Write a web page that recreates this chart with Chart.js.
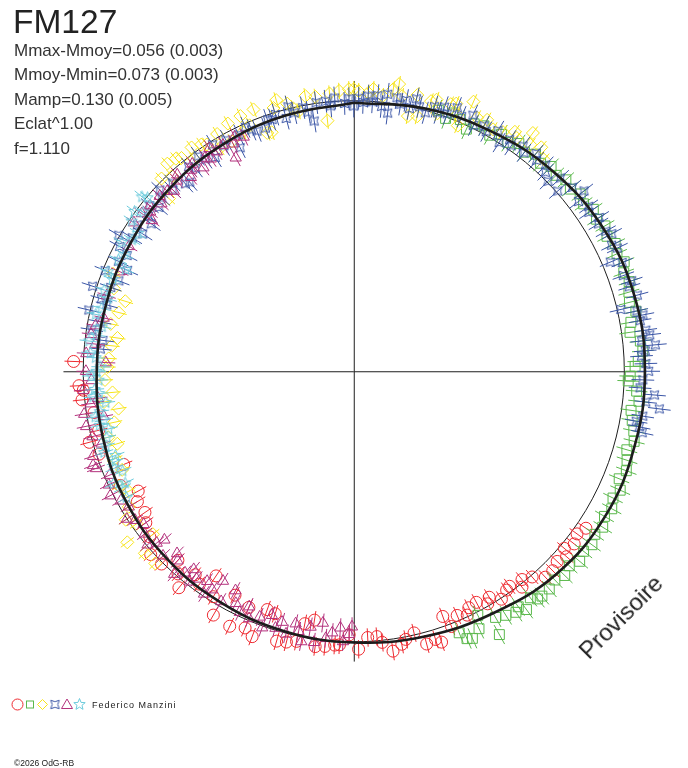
<!DOCTYPE html>
<html>
<head>
<meta charset="utf-8">
<title>FM127</title>
<script src="https://cdn.jsdelivr.net/npm/chart.js@4.4.0/dist/chart.umd.min.js"></script>
<style>
  html, body { margin: 0; padding: 0; background: #fff; }
  body { width: 688px; height: 768px; position: relative; overflow: hidden;
         font-family: "Liberation Sans", Arial, sans-serif; color: #222; }
  #wrap { position: absolute; left: 0; top: 0; width: 688px; height: 768px; }
  .txt { position: absolute; white-space: nowrap; }
  #title { left: 13px; top: 5px; font-size: 33.5px; line-height: 33.5px; color: #222; }
  #stats { left: 14px; top: 39px; font-size: 17px; line-height: 24.4px; color: #333; }
  #observer { left: 92px; top: 701px; font-size: 9px; line-height: 9px; letter-spacing: 1px; color: #222; }
  #copy { left: 14px; top: 759px; font-size: 8.5px; line-height: 8.5px; color: #222; }
  #stamp { left: 621px; top: 617px; font-size: 24px; line-height: 24px; color: #222;
           transform: translate(-50%, -50%) rotate(-45deg); }
</style>
</head>
<body>
<div id="wrap"><canvas id="polar"></canvas></div>
<div class="txt" id="title">FM127</div>
<div class="txt" id="stats">
  Mmax-Mmoy=0.056 (0.003)<br>
  Mmoy-Mmin=0.073 (0.003)<br>
  Mamp=0.130 (0.005)<br>
  Eclat^1.00<br>
  f=1.110
</div>
<div class="txt" id="observer">Federico Manzini</div>
<div class="txt" id="copy">©2026 OdG-RB</div>
<div class="txt" id="stamp">Provisoire</div>

<script>
/* FM127 polar light curve
   phase in degrees (clockwise from top), magnitude offset from mean (mag)
*/

const redPhase = [124,126,128,130,131,133,135,137,139,141,142,144,145,147,149,150,152,154,155,157,159,160,162,163,165,167,169,170,172,174,175,177,179,181,183,184,186,188,189,191,192,194,196,198,200,201,203,204,206,208,210,212,214,216,218,219,221,223,225,228,231,234,236,239,241,244,248,252,255,257,261,264,266,267,272];
const redMag = [0.035,0.020,0.034,0.016,0.042,0.028,0.040,0.038,0.005,-0.012,0.010,-0.020,-0.015,0.002,-0.028,-0.010,-0.035,-0.030,-0.008,-0.022,0.008,-0.038,0.050,0.034,0.041,-0.010,0.007,0.022,0.042,0.005,-0.018,-0.017,0.025,-0.028,0.010,0.012,0.020,0.025,-0.071,-0.052,0.018,0.029,0.035,-0.060,-0.065,0.048,0.028,-0.047,0.046,-0.065,0.038,-0.020,-0.090,-0.030,-0.048,0.027,-0.010,-0.047,0.005,0.010,-0.030,-0.050,-0.069,-0.067,-0.089,-0.040,-0.083,-0.010,0.012,-0.032,-0.028,0.010,0.002,0.017,0.036];

const greenPhase = [18,20,21,23,25,26,28,30,32,34,36,38,40,42,44,46,48,50,52,54,56,58,60,62,64,66,68,70,72,74,76,78,80,82,84,86,88,89,91,92,94,96,98,100,102,104,106,108,110,112,114,116,118,120,122,124,126,128,130,132,134,136,138,140,141,142,144,145,146,148,150,151,153,154,156,157,158];
const greenMag = [0.012,-0.008,0.020,0.008,-0.015,0.015,0.025,0.005,0.030,0.018,0.038,0.025,0.045,0.032,0.050,0.040,0.055,0.045,0.062,0.050,0.068,0.058,0.072,0.060,0.075,0.065,0.078,0.062,0.070,0.058,0.050,0.066,0.040,0.031,0.065,0.071,0.052,0.040,0.022,0.015,0.048,0.060,0.035,0.045,0.058,0.068,0.050,0.062,0.072,0.058,0.078,0.066,0.080,0.070,0.085,0.075,0.088,0.078,0.090,0.072,0.084,0.070,0.080,0.082,0.080,0.060,0.086,0.060,0.072,0.061,0.048,0.110,0.010,0.056,0.078,0.071,0.040];

const yellowPhase = [226,229,231,233,235,237,239,242,244,247,250,253,255,258,261,263,265,268,271,273,276,278,281,284,287,289,292,313,315,317,318,320,321,323,324,326,327,329,330,332,333,335,336,337,339,340,341,343,344,346,347,348,350,352,354,355,357,359,0,1,3,4,6,8,9,10,12,13,14,16,17,18,20,21,22,23,24,26,28,30,32,34,35,37,38,40,42];
const yellowMag = [0.020,0.023,-0.045,0.048,-0.020,0.005,-0.030,-0.057,-0.035,-0.070,-0.060,-0.086,-0.060,-0.095,-0.120,-0.070,-0.105,-0.080,-0.090,-0.093,-0.100,-0.118,-0.085,-0.105,-0.117,-0.062,-0.040,-0.066,0.005,-0.016,0.030,0.023,0.012,-0.020,0.020,0.008,-0.003,-0.040,0.010,-0.040,0.025,-0.028,0.030,-0.015,0.034,-0.065,-0.068,0.015,0.040,0.017,-0.005,-0.020,0.030,0.022,-0.071,0.028,0.035,0.040,0.040,0.033,0.028,0.043,0.020,0.050,0.072,0.030,-0.038,0.045,-0.031,0.036,0.047,0.000,0.048,0.057,0.020,-0.016,0.088,0.040,0.050,0.030,0.040,0.065,0.050,0.100,0.060,0.078,0.050];

const bluePhase = [275,277,279,281,283,285,286,288,289,291,292,294,295,297,298,300,301,303,304,306,307,309,310,312,313,315,316,318,319,321,322,324,325,327,328,330,331,333,334,336,337,338,340,341,
  342,343,345,346,347,349,350,351,352,354,355,356,358,359,0,1,2,3,4,5,6,7,7.5,9,10,11,12,13,14,15.5,17,18,19,20,
  21.5,23,25,26,28,29,31,32.5,34,35,37,38,40,41,43,44,45.7,47,48.6,50,52,53,55,56,58,59,61,62,64,65,67,68,70.5,72,73,75,77,78,79,80,82,83,84,85,86,87,88.5,90,91.7,93.3,94.5,96,97,98.8,100,101,102];
const blueMag = [-0.060,-0.066,-0.020,-0.045,0.005,-0.055,-0.030,0.015,-0.050,-0.070,-0.009,-0.085,-0.040,-0.060,-0.020,0.003,-0.045,-0.070,-0.035,-0.075,-0.050,-0.030,-0.060,-0.045,-0.020,-0.055,-0.035,-0.070,-0.076,-0.030,-0.050,-0.020,-0.045,-0.060,-0.015,-0.040,-0.025,-0.075,-0.030,-0.015,-0.033,-0.045,-0.046,-0.020,
  -0.024,-0.010,-0.035,0.005,-0.022,-0.010,-0.030,-0.066,0.000,0.001,-0.018,0.010,-0.012,0.005,-0.022,0.007,-0.008,0.016,-0.004,0.020,-0.018,0.029,-0.040,0.021,0.000,0.017,-0.010,0.031,0.005,-0.011,0.020,0.002,0.030,0.010,
  0.044,0.020,0.042,0.008,0.025,0.010,0.035,0.000,0.030,0.015,0.040,0.022,0.048,0.030,0.040,0.020,0.003,0.045,0.005,0.055,0.080,0.040,0.060,0.048,0.070,0.055,0.065,0.080,0.060,0.075,0.030,0.070,0.057,0.080,0.065,0.085,0.013,0.070,0.089,0.075,0.090,0.102,0.070,0.119,0.080,0.065,0.080,0.090,0.069,0.060,0.115,0.085,0.138,0.081,0.060,0.075,0.090];

const purplePhase = [180.4,181,182.3,183,184.7,186,187,188.4,189.6,191,192,193,194.5,196,197,198.6,199.7,201,203,204,205.4,207,208.4,210,212,213,214,215,217.2,218,219,220,221.6,223,224.2,226,228.4,229,230,232.2,234,235.8,237,239,241,243,245.2,247,249.4,250.2,252,254,256,258.4,259.8,261,263,264,266,268,270,272,273.8,276,278,280,282,287,293,299,304,306.6,306.7,308,309,311,312,313.9,315,317,318,319.9,321,322,323.5,325,326,327,328,329.9,331,332,333,334.8];
const purpleMag = [-0.058,-0.030,-0.003,-0.053,-0.033,-0.010,-0.065,0.010,-0.044,0.015,-0.020,-0.045,0.000,-0.038,-0.010,-0.051,0.004,-0.030,-0.010,-0.050,-0.017,-0.040,-0.081,-0.020,-0.088,-0.040,-0.010,-0.055,-0.039,-0.015,-0.060,-0.030,0.000,-0.045,-0.063,-0.020,-0.064,-0.035,-0.005,-0.022,-0.040,-0.023,0.000,-0.030,-0.015,0.010,-0.002,-0.020,0.018,0.024,0.013,-0.030,-0.005,0.010,-0.061,0.009,-0.020,-0.050,0.002,-0.030,-0.010,-0.083,-0.009,-0.040,-0.020,-0.031,-0.055,-0.045,-0.060,-0.050,-0.020,-0.024,-0.069,-0.045,-0.030,-0.058,-0.035,-0.043,-0.060,-0.040,-0.025,-0.065,-0.045,-0.030,-0.066,-0.040,-0.055,-0.020,-0.045,-0.036,-0.100,-0.050,-0.030,-0.045];

const cyanPhase = [241,243.3,244,245,246.7,248,249.3,250.6,252,253.3,255,256.8,258,259,260,261,262.8,264.4,265,266,268,269,270,271,273,274,276.5,278,280,282.4,284,286.4,288,290.8,292,294,295.3,297,299,300.6,302.5,304,306,307,309.4,310];
const cyanMag = [-0.040,-0.043,-0.060,-0.020,-0.070,-0.045,-0.059,-0.066,-0.030,-0.043,-0.055,-0.069,-0.040,-0.059,-0.030,-0.050,-0.076,-0.032,-0.055,-0.040,-0.057,-0.030,-0.050,-0.065,-0.045,-0.025,-0.015,-0.040,-0.055,-0.024,-0.040,-0.052,-0.030,-0.046,-0.020,-0.076,-0.038,-0.050,-0.020,-0.048,-0.054,-0.010,0.002,-0.025,0.013,-0.005];

// fitted curve, read every 15 degrees
const fitPhase = [0,15,30,45,60,75,90,105,120,135,150,165,180,195,210,225,240,255,270,285,300,315,330,345,360];
const fitMag = [-0.010,0.004,0.020,0.042,0.062,0.074,0.076,0.074,0.072,0.058,0.030,0.012,0.000,-0.008,-0.016,-0.023,-0.031,-0.041,-0.050,-0.052,-0.049,-0.042,-0.034,-0.024,-0.010];

// typical magnitude error per series
const redErr = 0.034, greenErr = 0.040, yellowErr = 0.030, blueErr = 0.042, purpleErr = 0.035, cyanErr = 0.035;


function toPolar(phases, mags) {
    const n = Math.min(phases.length, mags.length);
    const out = [];
    for (let i = 0; i < n; i++) {
        const a = phases[i] * Math.PI / 180;
        const r = 1 + mags[i];
        out.push({ x: r * Math.sin(a), y: r * Math.cos(a), a: a, r: r });
    }
    return out;
}

// little outline symbols that chart.js has no built-in style for
function makeStar(color, points, outer, inner, rot) {
    const size = Math.ceil(outer * 2) + 3;
    const c = document.createElement('canvas');
    c.width = size;
    c.height = size;
    const ctx = c.getContext('2d');
    const m = size / 2;
    ctx.strokeStyle = color;
    ctx.lineWidth = 1;
    ctx.beginPath();
    for (let i = 0; i < points * 2; i++) {
        const r = i % 2 === 0 ? outer : inner;
        const a = rot + i * Math.PI / points;
        const px = m + r * Math.sin(a);
        const py = m - r * Math.cos(a);
        if (i === 0) ctx.moveTo(px, py); else ctx.lineTo(px, py);
    }
    ctx.closePath();
    ctx.stroke();
    return c;
}

const RED = '#ee2a30';
const GREEN = '#5bb84c';
const YELLOW = '#f7e41a';
const BLUE = '#3a55a6';
const PURPLE = '#b3327d';
const CYAN = '#6ccbdc';

const blueStar = makeStar(BLUE, 4, 6, 2.8, Math.PI / 4);
const cyanStar = makeStar(CYAN, 5, 6, 2.6, 0);

function series(label, data, color, style, radius, err) {
    return {
        label: label,
        data: data,
        err: err,
        borderColor: color,
        pointBorderColor: color,
        pointBackgroundColor: 'rgba(0,0,0,0)',
        pointBorderWidth: 1,
        pointStyle: style,
        pointRadius: radius,
        showLine: false
    };
}

const frame = {
    id: 'frame',
    beforeDatasetsDraw(chart) {
        const xs = chart.scales.x, ys = chart.scales.y, ctx = chart.ctx;
        const cx = xs.getPixelForValue(0), cy = ys.getPixelForValue(0);
        const R = xs.getPixelForValue(1) - cx;
        const L = 1.073 * R;
        ctx.save();
        ctx.strokeStyle = '#1e1e1e';
        ctx.lineWidth = 1;
        ctx.beginPath();
        ctx.arc(cx, cy, R, 0, Math.PI * 2);
        ctx.stroke();
        ctx.beginPath();
        ctx.moveTo(cx - L, cy + 0.5);
        ctx.lineTo(cx + L, cy + 0.5);
        ctx.moveTo(cx + 0.5, cy - L);
        ctx.lineTo(cx + 0.5, cy + L);
        ctx.stroke();
        ctx.restore();
    }
};

const errorBars = {
    id: 'errorBars',
    beforeDatasetDraw(chart, args) {
        const ds = chart.data.datasets[args.index];
        if (!ds.err) return;
        const xs = chart.scales.x, ys = chart.scales.y, ctx = chart.ctx;
        ctx.save();
        ctx.strokeStyle = ds.borderColor;
        ctx.lineWidth = 1;
        ctx.beginPath();
        ds.data.forEach((p) => {
            const r1 = p.r - ds.err, r2 = p.r + ds.err;
            ctx.moveTo(xs.getPixelForValue(r1 * Math.sin(p.a)), ys.getPixelForValue(r1 * Math.cos(p.a)));
            ctx.lineTo(xs.getPixelForValue(r2 * Math.sin(p.a)), ys.getPixelForValue(r2 * Math.cos(p.a)));
        });
        ctx.stroke();
        ctx.restore();
    }
};

// legend row of symbols under the plot
const legendSymbols = {
    id: 'legendSymbols',
    afterDraw(chart) {
        const ctx = chart.ctx;
        const y = 704.5;
        ctx.save();
        ctx.lineWidth = 1;
        ctx.strokeStyle = RED;
        ctx.beginPath(); ctx.arc(17.5, y, 5.5, 0, Math.PI * 2); ctx.stroke();
        ctx.strokeStyle = GREEN;
        ctx.strokeRect(26.5, y - 3.5, 7, 7);
        ctx.strokeStyle = YELLOW;
        ctx.beginPath();
        ctx.moveTo(42.5, y - 5); ctx.lineTo(47.5, y); ctx.lineTo(42.5, y + 5); ctx.lineTo(37.5, y); ctx.closePath();
        ctx.stroke();
        ctx.drawImage(blueStar, 55 - blueStar.width / 2, y - blueStar.height / 2);
        ctx.strokeStyle = PURPLE;
        ctx.beginPath();
        ctx.moveTo(67, y - 5.5); ctx.lineTo(72.5, y + 4); ctx.lineTo(61.5, y + 4); ctx.closePath();
        ctx.stroke();
        ctx.drawImage(cyanStar, 79.5 - cyanStar.width / 2, y - cyanStar.height / 2);
        ctx.restore();
    }
};

function mainEvent() {
    const target = document.querySelector('#polar');

    const fitData = toPolar(fitPhase, fitMag);

    const chart = new Chart(target, {
        type: 'scatter',
        data: {
            datasets: [
                {
                    label: 'fit',
                    data: fitData,
                    showLine: true,
                    borderColor: '#1c1c1c',
                    borderWidth: 2.6,
                    pointRadius: 0,
                    tension: 0.4,
                    fill: false
                },
                series('cyan', toPolar(cyanPhase, cyanMag), CYAN, cyanStar, 6, cyanErr),
                series('purple', toPolar(purplePhase, purpleMag), PURPLE, 'triangle', 6.5, purpleErr),
                series('blue', toPolar(bluePhase, blueMag), BLUE, blueStar, 6, blueErr),
                series('yellow', toPolar(yellowPhase, yellowMag), YELLOW, 'rectRot', 6.5, yellowErr),
                series('green', toPolar(greenPhase, greenMag), GREEN, 'rect', 7, greenErr),
                series('red', toPolar(redPhase, redMag), RED, 'circle', 6, redErr)
            ]
        },
        options: {
            responsive: true,
            maintainAspectRatio: false,
            animation: false,
            layout: { padding: 0 },
            plugins: {
                legend: { display: false },
                tooltip: { enabled: false }
            },
            scales: {
                x: { type: 'linear', display: false, min: -354 / 277, max: 334 / 277 },
                y: { type: 'linear', display: false, min: -397 / 277, max: 371 / 277 }
            }
        },
        plugins: [frame, errorBars, legendSymbols]
    });
    return chart;
}

document.addEventListener('DOMContentLoaded', () => mainEvent());
</script>
</body>
</html>
